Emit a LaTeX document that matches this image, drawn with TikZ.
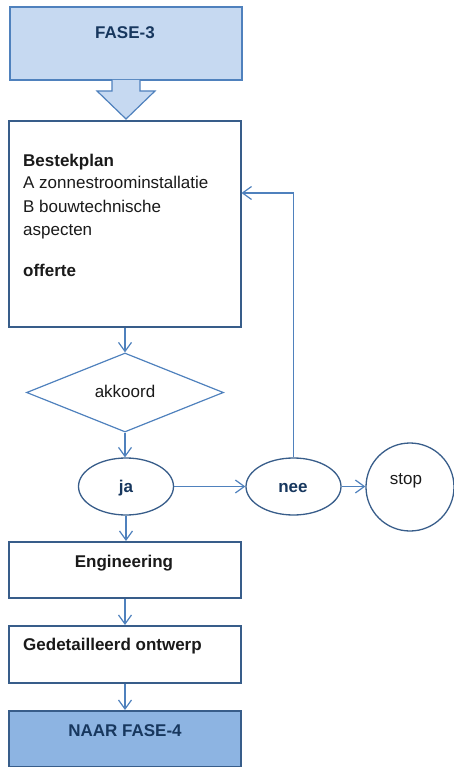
\documentclass[tikz,border=0pt]{standalone}
\usepackage{fontspec}
\setmainfont{Liberation Sans}
\usetikzlibrary{shapes.geometric,arrows.meta}
\definecolor{lineblue}{HTML}{4F81BD}
\definecolor{boxblue}{HTML}{385D8A}
\definecolor{paleblue}{HTML}{C6D9F1}
\definecolor{midblue}{HTML}{8DB4E2}
\definecolor{navy}{HTML}{17375E}
\definecolor{ink}{HTML}{1A1A1A}
\tikzset{
  txt/.style={font=\fontsize{17}{22}\selectfont, text=ink, inner sep=0pt},
  navytxt/.style={font=\fontsize{17}{22}\selectfont\bfseries, text=navy, inner sep=0pt},
  stepbox/.style={draw=boxblue, line width=2pt, fill=white, rectangle, inner sep=0pt},
  conn/.style={draw=lineblue, line width=1.2pt, -{Straight Barb[length=9pt,width=13pt,line width=1.2pt]}},
  oval/.style={draw=boxblue, line width=1.3pt, ellipse, minimum width=95pt, minimum height=57pt, inner sep=0pt}
}
\begin{document}
\begin{tikzpicture}[x=1pt,y=-1pt]
\useasboundingbox (0,0) rectangle (453,767);

% phase header and block arrow
\node[draw=lineblue, line width=1.5pt, fill=paleblue, minimum width=232pt, minimum height=73pt, inner sep=0pt] (fase3) at (126,43.5) {};
\node[navytxt, anchor=base] (fase3t) at (125,39) {FASE-3};
\filldraw[draw=lineblue, line width=1.2pt, fill=paleblue]
  (112,80) -- (112,91) -- (97,91) -- (126,119) -- (155,91) -- (140,91) -- (140,80);

% specification box
\node[stepbox, minimum width=232pt, minimum height=206pt] (main) at (124.5,224) {};
\node[txt, font=\fontsize{17}{22}\selectfont\bfseries, anchor=base west] (l1) at (23,167) {Bestekplan};
\node[txt, anchor=base west] (l2) at (23,189) {A zonnestroominstallatie};
\node[txt, anchor=base west] (l3) at (23,212) {B bouwtechnische};
\node[txt, anchor=base west] (l4) at (23,235) {aspecten};
\node[txt, font=\fontsize{17}{22}\selectfont\bfseries, anchor=base west] (l5) at (23,276) {offerte};

% decision
\node[draw=lineblue, line width=1.2pt, diamond, aspect=2.5, minimum width=197pt, minimum height=79pt, inner sep=0pt] (dec) at (125,392.5) {};
\node[txt, anchor=base] (dect) at (125,397) {akkoord};

% outcomes
\node[oval] (ja) at (126,486.5) {};
\node[navytxt, anchor=base] (jat) at (126,492) {ja};
\node[oval] (nee) at (293.5,486.5) {};
\node[navytxt, anchor=base] (neet) at (293,492) {nee};
\node[draw=boxblue, line width=1.3pt, circle, minimum size=88pt, inner sep=0pt] (stop) at (410,487) {};
\node[txt, anchor=base] (stopt) at (406,484) {stop};

% follow-up steps
\node[stepbox, minimum width=232pt, minimum height=56pt] (eng) at (124.5,570) {};
\node[txt, font=\fontsize{17}{22}\selectfont\bfseries, anchor=base] (engt) at (124,567) {Engineering};
\node[stepbox, minimum width=232pt, minimum height=57pt] (ged) at (124.5,654.5) {};
\node[txt, font=\fontsize{17}{22}\selectfont\bfseries, anchor=base west] (gedt) at (23,650) {Gedetailleerd ontwerp};
\node[draw=boxblue, line width=2pt, fill=midblue, minimum width=232pt, minimum height=56pt, inner sep=0pt] (fase4) at (125,739) {};
\node[navytxt, anchor=base] (fase4t) at (125,736) {NAAR FASE-4};

% connectors
\draw[conn] (dec.north |- main.south) -- (dec.north);
\draw[conn] (dec.south) -- (dec.south |- ja.north);
\draw[conn] (ja.east) -- (nee.west);
\draw[conn] (nee.east) -- (nee.east -| stop.west);
\coordinate (turn) at (293.5,193);
\draw[conn] (nee.north) -- (turn) -- (turn -| main.east);
\draw[conn] (ja.south) -- (ja.south |- eng.north);
\draw[conn] (eng.south -| 125,0) -- (ged.north -| 125,0);
\draw[conn] (ged.south -| 125,0) -- (fase4.north -| 125,0);
\end{tikzpicture}
\end{document}
